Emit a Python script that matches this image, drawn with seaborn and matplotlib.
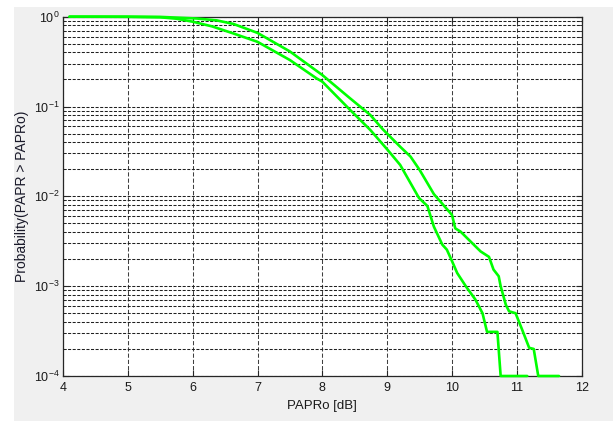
import numpy as np
import pandas as pd
import matplotlib
matplotlib.use("Agg")
import matplotlib.pyplot as plt
from matplotlib.patches import Rectangle
from matplotlib import ticker
from matplotlib import font_manager as fm
import seaborn as sns

# ---- data (CCDF of PAPR) ----
papr_upper = [4.1, 4.5, 5.0, 5.5, 6.06, 6.37, 6.63, 7.0, 7.5, 8.0, 8.43, 8.74, 8.93,
              9.2, 9.36, 9.5, 9.72, 10.0, 10.05, 10.13, 10.44, 10.57, 10.64, 10.72,
              10.75, 10.83, 10.88, 10.98, 11.08, 11.19, 11.26, 11.33, 11.65]
prob_upper = [1.0, 1.0, 0.999, 0.995, 0.955, 0.91, 0.83, 0.66, 0.41, 0.224, 0.123, 0.0805, 0.056,
              0.0357, 0.0277, 0.0197, 0.0106, 0.0062, 0.0044, 0.00406, 0.00244, 0.00212, 0.00153, 0.00129,
              0.001, 0.00062, 0.000525, 0.0005, 0.00033, 0.000206, 0.0002, 0.0001, 0.0001]

papr_lower = [4.1, 4.5, 5.0, 5.5, 5.75, 6.0, 6.3, 6.63, 7.0, 7.5, 7.91, 8.0, 8.43, 8.74,
              9.01, 9.2, 9.49, 9.62, 9.72, 9.85, 9.92, 10.0, 10.08, 10.22, 10.36, 10.47,
              10.54, 10.70, 10.75, 11.16]
prob_lower = [1.0, 1.0, 0.998, 0.985, 0.95, 0.88, 0.78, 0.65, 0.525, 0.329, 0.206, 0.189, 0.0914, 0.0548,
              0.0327, 0.0224, 0.0096, 0.0078, 0.0046, 0.0029, 0.00255, 0.0019, 0.0014, 0.00098, 0.00071, 0.0005,
              0.00031, 0.00031, 0.0001, 0.0001]

x_ticks = [4, 5, 6, 7, 8, 9, 10, 11, 12]
y_ticks = [1e-4, 1e-3, 1e-2, 1e-1, 1e0]
y_tick_labels = [r"$\mathregular{10^{-4}}$", r"$\mathregular{10^{-3}}$", r"$\mathregular{10^{-2}}$",
                 r"$\mathregular{10^{-1}}$", r"$\mathregular{10^{0}}$"]
x_label = "PAPRo [dB]"
y_label = "Probability(PAPR > PAPRo)"

df_upper = pd.DataFrame({"x": papr_upper, "p": prob_upper})
df_lower = pd.DataFrame({"x": papr_lower, "p": prob_lower})

# ---- style ----
sns.set_style("ticks")
names = {f.name for f in fm.fontManager.ttflist}
narrow = "Liberation Sans Narrow" if "Liberation Sans Narrow" in names else "Liberation Sans"
plt.rcParams["font.family"] = [narrow, "DejaVu Sans"]
plt.rcParams["mathtext.fontset"] = "custom"
plt.rcParams["mathtext.rm"] = narrow
plt.rcParams["mathtext.it"] = narrow
plt.rcParams["mathtext.bf"] = narrow
plt.rcParams["lines.scale_dashes"] = False

fig = plt.figure(figsize=(6.13, 4.22), dpi=100)
fig.patch.set_facecolor("white")
fig.add_artist(Rectangle((14 / 613, 1 - 421 / 422), 1 - 14 / 613, (421 - 7) / 422,
                         transform=fig.transFigure, facecolor="#f0f0f0",
                         edgecolor="none", zorder=-10))

ax = fig.add_axes([63 / 613, 46 / 422, (581.7 - 63) / 613, (376 - 16.7) / 422])
ax.set_facecolor("white")

green = "#00ff00"
sns.lineplot(data=df_upper, x="x", y="p", ax=ax, color=green, lw=1.9,
             sort=False, estimator=None, legend=False)
sns.lineplot(data=df_lower, x="x", y="p", ax=ax, color=green, lw=1.9,
             sort=False, estimator=None, legend=False)
for ln in ax.get_lines():
    ln.set_clip_on(False)
    ln.set_zorder(5)

ax.set_yscale("log")
ax.set_xlim(4, 12)
ax.set_ylim(1e-4, 1)

ax.set_xticks(x_ticks)
ax.set_xticklabels([str(t) for t in x_ticks])
ax.yaxis.set_major_locator(ticker.FixedLocator(y_ticks))
ax.yaxis.set_major_formatter(ticker.FixedFormatter(y_tick_labels))
ax.yaxis.set_minor_locator(ticker.LogLocator(base=10, subs=np.arange(2, 10), numticks=50))
ax.yaxis.set_minor_formatter(ticker.NullFormatter())

ax.grid(True, axis="y", which="both", color="#202020", lw=0.75, linestyle=(0, (2.2, 1.1)))
ax.grid(True, axis="x", which="major", color="#404040", lw=0.75, linestyle=(0, (3.0, 1.5)))
ax.set_axisbelow(True)

for s in ax.spines.values():
    s.set_visible(True)
    s.set_color("#262626")
    s.set_linewidth(0.9)

ax.tick_params(axis="both", which="major", direction="in", length=4.5, width=0.8,
               top=True, right=True, labelsize=9, colors="#262626", pad=4)
ax.tick_params(axis="y", which="minor", direction="in", length=2.5, width=0.6,
               left=True, right=True)
ax.tick_params(axis="y", which="major", pad=2.5)
for lab in ax.get_xticklabels() + ax.get_yticklabels():
    lab.set_color("#1a1a1a")

ax.set_xlabel(x_label, fontsize=9.5, color="#1a1a1a")
ax.xaxis.set_label_coords(0.5, -0.068)
ax.set_ylabel(y_label, fontsize=10, color="#1a1a2a", family=["Liberation Sans", "DejaVu Sans"])
ax.yaxis.set_label_coords(-0.066, 0.5)

fig.savefig("out.png", dpi=100, facecolor=fig.get_facecolor())
